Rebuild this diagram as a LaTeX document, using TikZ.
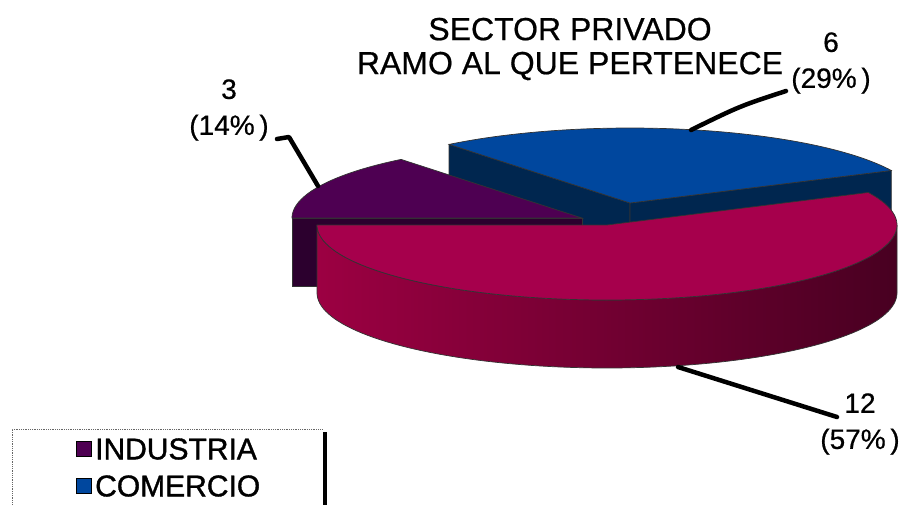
\documentclass[tikz,border=0pt]{standalone}
\usepackage{fontspec}
\setmainfont{Liberation Sans}
\newfontfamily\heavyfont[FakeBold=1.2]{Liberation Sans}
\newfontfamily\midfont[FakeBold=0.6]{Liberation Sans}
\definecolor{redtop}{HTML}{A6004C}
\definecolor{redside}{HTML}{9C0042}
\definecolor{redmid}{HTML}{86003A}
\definecolor{reddark}{HTML}{480021}
\definecolor{purtop}{HTML}{4E0052}
\definecolor{purside}{HTML}{2C002E}
\definecolor{bluetop}{HTML}{00479E}
\definecolor{blueside}{HTML}{00264F}
\begin{document}
\begin{tikzpicture}[x=1pt,y=-1pt,
  edge/.style={draw=black!80,line width=0.7},
  leader/.style={draw=black,line width=4.5,line cap=round,line join=round},
  lbl/.style={font=\midfont\fontsize{28}{36}\selectfont,align=center,inner sep=0},
  ttl/.style={font=\midfont\fontsize{32}{34}\selectfont,align=center,inner sep=0},
  leg/.style={font=\heavyfont\fontsize{30}{32}\selectfont,anchor=west,inner sep=0},
  legsq/.style={draw=black,line width=1.8,minimum size=15,inner sep=0}]
\useasboundingbox (0,0) rectangle (905,504);
\clip (0,0) rectangle (905,504);
% ---------------- blue slice (COMERCIO), pulled back ----------------
\fill[blueside,edge] (630,203) -- ({630+290*cos(128.6)},{203-75*sin(128.6)}) -- ({630+290*cos(128.6)},{271-75*sin(128.6)}) -- (630,271) -- cycle;
\fill[blueside,edge] (630,203) -- ({630+290*cos(25.7)},{203-75*sin(25.7)}) -- ({630+290*cos(25.7)},{271-75*sin(25.7)}) -- (630,271) -- cycle;
\fill[bluetop,edge] (630,203) -- plot[domain=25.7:128.6,samples=80] ({630+290*cos(\x)},{203-75*sin(\x)}) -- cycle;
% ---------------- purple slice (INDUSTRIA) ----------------
\fill[purside,edge] (582,218) -- (292,218) -- (292,286) -- (582,286) -- cycle;
\fill[purtop,edge] (582,218) -- plot[domain=128.6:180,samples=40] ({582+290*cos(\x)},{218-75*sin(\x)}) -- cycle;
% ---------------- red slice, front ----------------
\shade[left color=redside,middle color=redmid,right color=reddark,edge]
  plot[domain=-180:0,samples=90] ({607+290*cos(\x)},{225-75*sin(\x)}) --
  plot[domain=0:-180,samples=90] ({607+290*cos(\x)},{293-75*sin(\x)}) -- cycle;
\fill[redtop,edge] (607,225) -- plot[domain=-180:25.7,samples=120] ({607+290*cos(\x)},{225-75*sin(\x)}) -- cycle;
% ---------------- title ----------------
\node[ttl] (title) at (570,49) {SECTOR PRIVADO\\RAMO AL QUE PERTENECE};
% ---------------- data labels ----------------
\node[lbl] (lab6) at (831,63) {6\\(29\%\,)};
\node[lbl] (lab3) at (229,110) {3\\(14\%\,)};
\node[lbl] (lab12) at (860,424) {12\\(57\%\,)};
\coordinate (q6) at (786,91);
\coordinate (p6) at (691,130);
\coordinate (q3) at (277,139);
\coordinate (k3) at (289,137);
\coordinate (p3) at (318,186);
\coordinate (q12) at (837,417);
\coordinate (p12) at (678,367);
\draw[leader] (q6) .. controls (740,106) .. (p6);
\draw[leader] (q3) -- (k3) -- (p3);
\draw[leader] (q12) -- (p12);
% ---------------- legend ----------------
\draw[black!60,line width=0.8,densely dotted] (12,510) -- (12,429) -- (322,429);
\draw[black,line width=4] (325,432) -- (325,510);
\node[legsq,fill=purtop] (sq1) at (84,449) {};
\node[legsq,fill=bluetop] (sq2) at (84,486) {};
\node[leg] (t1) at (95,449) {INDUSTRIA};
\node[leg] (t2) at (95,486) {COMERCIO};
\end{tikzpicture}
\end{document}
